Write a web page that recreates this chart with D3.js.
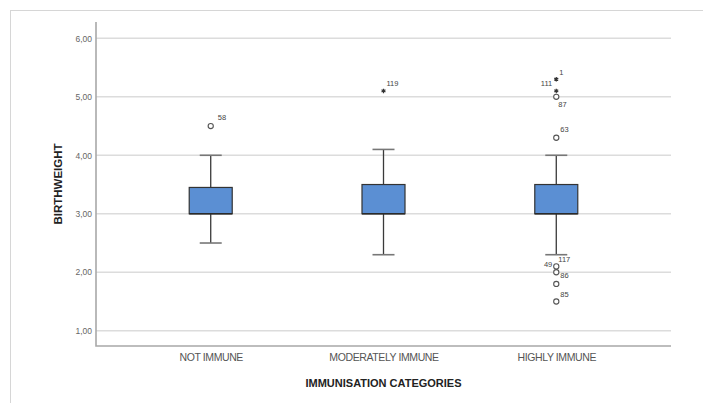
<!DOCTYPE html>
<html>
<head>
<meta charset="utf-8">
<script src="https://cdn.jsdelivr.net/npm/d3@7/dist/d3.min.js"></script>
<style>
  html, body { margin: 0; padding: 0; background: #fff; }
  svg { display: block; }
  text { font-family: "Liberation Sans", Arial, sans-serif; }
</style>
</head>
<body>
<svg id="chart" width="703" height="403"></svg>
<script>
// ---- data ----
const categories = ["NOT IMMUNE", "MODERATELY IMMUNE", "HIGHLY IMMUNE"];
const q1Values      = [3.0, 3.0, 3.0];
const medianValues  = [3.0, 3.0, 3.0];
const q3Values      = [3.45, 3.5, 3.5];
const whiskerLow    = [2.5, 2.3, 2.3];
const whiskerHigh   = [4.0, 4.1, 4.0];
const outlierGroup  = ["NOT IMMUNE", "MODERATELY IMMUNE", "HIGHLY IMMUNE", "HIGHLY IMMUNE", "HIGHLY IMMUNE", "HIGHLY IMMUNE", "HIGHLY IMMUNE", "HIGHLY IMMUNE", "HIGHLY IMMUNE", "HIGHLY IMMUNE", "HIGHLY IMMUNE"];
const outlierValue  = [4.5, 5.1, 5.3, 5.1, 5.0, 4.3, 2.3, 2.1, 2.0, 1.8, 1.5];
const outlierId     = ["58", "119", "1", "111", "87", "63", "117", "49", "86", "", "85"];
const outlierKind   = ["o", "*", "*", "*", "o", "o", "none", "o", "o", "o", "o"];
const yTicks        = [1, 2, 3, 4, 5, 6];
const yTickLabels   = ["1,00", "2,00", "3,00", "4,00", "5,00", "6,00"];
const yTitle = "BIRTHWEIGHT";
const xTitle = "IMMUNISATION CATEGORIES";

// ---- layout (label offsets relative to the point) ----
const labelOffset = [
  [7, -6, "start"], [3, -5, "start"], [3, -4, "start"], [-4, -5, "end"],
  [2, 10, "start"], [4, -6, "start"], [2, 7, "start"], [-4, 1, "end"],
  [4, 6, "start"], [0, 0, "start"], [4, -5, "start"]
];

(function () {
const svg = d3.select("#chart");

// frame
svg.append("rect")
  .attr("x", 10.5).attr("y", 10.5)
  .attr("width", 700).attr("height", 400)
  .attr("fill", "none").attr("stroke", "#d6d6d6").attr("stroke-width", 1);

const pLeft = 96, pRight = 671, pTop = 22, pBottom = 346;
const y = d3.scaleLinear().domain([0.7393, 6.2786]).range([pBottom, pTop]);
const x = d3.scalePoint().domain(categories).range([pLeft, pRight]).padding(0.664);

// gridlines
svg.append("g").selectAll("line").data(yTicks).join("line")
  .attr("x1", pLeft).attr("x2", pRight)
  .attr("y1", d => y(d)).attr("y2", d => y(d))
  .attr("stroke", "#dcdcdc").attr("stroke-width", 1.5);

// y axis
const yAxis = d3.axisLeft(y).tickValues(yTicks)
  .tickFormat((d, i) => yTickLabels[i]).tickSize(0).tickPadding(4);
const gy = svg.append("g").attr("transform", `translate(${pLeft},0)`).call(yAxis);
gy.select(".domain").remove();
gy.selectAll("text").attr("font-size", "8.5px").attr("fill", "#666")
  .attr("font-family", "Liberation Sans, Arial, sans-serif");

// x axis
const xAxis = d3.axisBottom(x).tickSize(0).tickPadding(8);
const gx = svg.append("g").attr("transform", `translate(0,${pBottom})`).call(xAxis);
gx.select(".domain").remove();
gx.selectAll("text").attr("font-size", "10.5px").attr("fill", "#555")
  .attr("font-family", "Liberation Sans, Arial, sans-serif")
  .attr("letter-spacing", "-0.4px");

// axis lines
svg.append("path")
  .attr("d", `M${pLeft},${pTop}V${pBottom}H${pRight}`)
  .attr("fill", "none").attr("stroke", "#a8a8a8").attr("stroke-width", 1.6);

// boxes
const boxW = 43, capW = 22;
const boxes = categories.map((c, i) => ({c, q1: q1Values[i], med: medianValues[i], q3: q3Values[i], lo: whiskerLow[i], hi: whiskerHigh[i]}));
const gb = svg.append("g");
boxes.forEach(b => {
  const cx = x(b.c);
  gb.append("line").attr("x1", cx).attr("x2", cx).attr("y1", y(b.hi)).attr("y2", y(b.q3))
    .attr("stroke", "#3a3a3a").attr("stroke-width", 1.3);
  gb.append("line").attr("x1", cx).attr("x2", cx).attr("y1", y(b.q1)).attr("y2", y(b.lo))
    .attr("stroke", "#3a3a3a").attr("stroke-width", 1.3);
  [b.hi, b.lo].forEach(v => {
    gb.append("line").attr("x1", cx - capW / 2).attr("x2", cx + capW / 2)
      .attr("y1", y(v)).attr("y2", y(v))
      .attr("stroke", "#777").attr("stroke-width", 1.6);
  });
  gb.append("rect").attr("x", cx - boxW / 2).attr("y", y(b.q3))
    .attr("width", boxW).attr("height", y(b.q1) - y(b.q3))
    .attr("fill", "#5b8fd3").attr("stroke", "#333").attr("stroke-width", 1.2);
  gb.append("line").attr("x1", cx - boxW / 2).attr("x2", cx + boxW / 2)
    .attr("y1", y(b.med)).attr("y2", y(b.med))
    .attr("stroke", "#2a2a2a").attr("stroke-width", 1.6);
});

// outliers
const outliers = outlierValue.map((v, i) => ({g: outlierGroup[i], v, id: outlierId[i], k: outlierKind[i], off: labelOffset[i]}));
const go = svg.append("g");
outliers.forEach(o => {
  const cx = x(o.g), cy = y(o.v);
  if (o.k === "o") {
    go.append("circle").attr("cx", cx).attr("cy", cy).attr("r", 2.6)
      .attr("fill", "#fff").attr("stroke", "#555").attr("stroke-width", 1.1);
  } else if (o.k === "*") {
    go.append("path").attr("d", d3.symbol(d3.symbolAsterisk, 14)())
      .attr("transform", `translate(${cx},${cy})`)
      .attr("stroke", "#333").attr("stroke-width", 1.2).attr("fill", "none");
  }
  if (o.id) {
    go.append("text").attr("x", cx + o.off[0]).attr("y", cy + o.off[1])
      .attr("text-anchor", o.off[2]).attr("font-size", "7.5px").attr("fill", "#444")
      .text(o.id);
  }
});

// titles
svg.append("text")
  .attr("transform", `translate(62,${(pTop + pBottom) / 2}) rotate(-90)`)
  .attr("text-anchor", "middle").attr("font-size", "11.5px").attr("font-weight", "bold")
  .attr("fill", "#222").text(yTitle);

svg.append("text")
  .attr("x", (pLeft + pRight) / 2).attr("y", 387)
  .attr("text-anchor", "middle").attr("font-size", "11px").attr("font-weight", "bold")
  .attr("fill", "#222").text(xTitle);
})();
</script>
</body>
</html>
